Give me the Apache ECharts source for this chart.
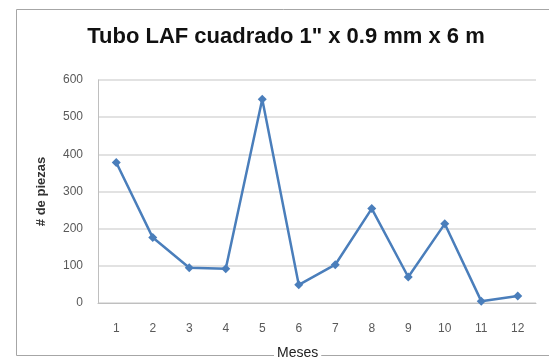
<!DOCTYPE html>
<html><head><meta charset="utf-8">
<script src="https://cdn.jsdelivr.net/npm/echarts@6/dist/echarts.min.js"></script>
<style>html,body{margin:0;padding:0;background:#fff}#c{width:549px;height:360px}</style>
</head><body><div id="c"></div>
<script>
const months = ['1','2','3','4','5','6','7','8','9','10','11','12'];
const piezas = [378, 176, 95, 92, 548, 49, 103, 254, 70, 213, 5, 19];
const yTicks = [0, 100, 200, 300, 400, 500, 600];
const titleText = 'Tubo LAF cuadrado 1" x 0.9 mm x 6 m';
const xName = 'Meses';
const yName = '# de piezas';

const narrow = '"Liberation Sans Narrow", "Arial Narrow", "Liberation Sans", sans-serif';
const chart = echarts.init(document.getElementById('c'), null, {renderer: 'canvas'});
chart.setOption({
  animation: false,
  backgroundColor: '#fff',
  title: {
    text: titleText, left: 281, top: 21, textAlign: 'center',
    textStyle: {fontFamily: 'Liberation Sans, Arial', fontSize: 22, fontWeight: 'bold', color: '#111'}
  },
  graphic: [
    {type: 'rect', left: 14, top: 7, z: -1, shape: {width: 560, height: 346},
     style: {fill: 'none', stroke: '#a6a6a6', lineWidth: 1}},
    {type: 'text', left: 274, top: 346, z: 10,
     style: {text: xName, font: '14px ' + narrow, fill: '#222', backgroundColor: '#fff', padding: [0, 3]}}
  ],
  grid: {left: 98, right: 13, top: 80, bottom: 57},
  xAxis: {
    type: 'category', data: months, boundaryGap: true,
    axisLine: {lineStyle: {color: '#bfbfbf'}},
    axisTick: {show: false},
    axisLabel: {color: '#595959', fontSize: 12, fontFamily: narrow, margin: 20}
  },
  yAxis: {
    type: 'value', min: 0, max: 600, interval: 100,
    name: yName, nameLocation: 'middle', nameGap: 50, nameRotate: 90,
    nameTextStyle: {color: '#333', fontSize: 13, fontWeight: 'bold', fontFamily: narrow},
    axisLine: {show: true, lineStyle: {color: '#bfbfbf'}},
    axisTick: {show: false},
    splitLine: {lineStyle: {color: '#d9d9d9', width: 1.5}},
    axisLabel: {color: '#595959', fontSize: 12, fontFamily: narrow, margin: 15,
      formatter: v => yTicks.includes(v) ? String(v) : ''}
  },
  series: [{
    type: 'line', data: piezas,
    symbol: 'diamond', symbolSize: 9,
    lineStyle: {color: '#4a7ebb', width: 2.5},
    itemStyle: {color: '#4a7ebb'}
  }]
});
</script></body></html>
